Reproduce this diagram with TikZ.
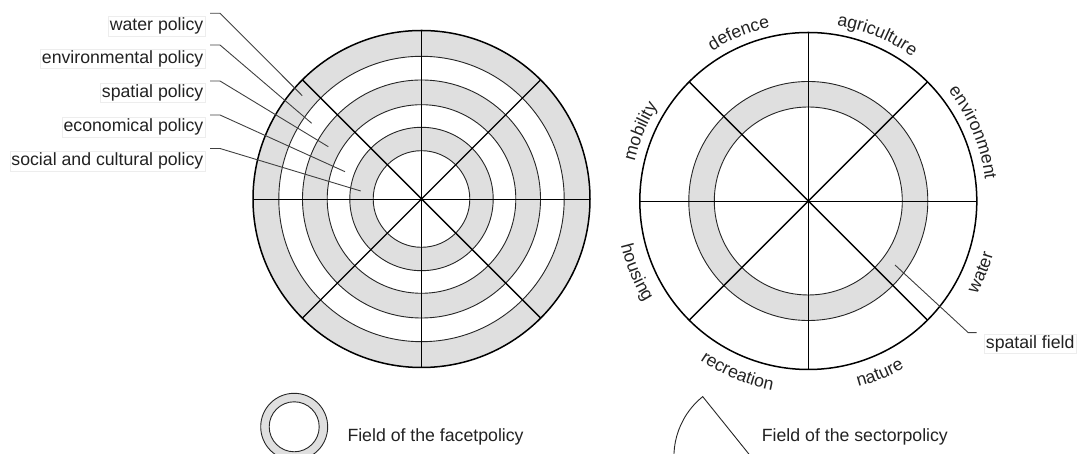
\documentclass[tikz,border=0pt]{standalone}
\usepackage{fontspec}
\setmainfont{Liberation Sans}
\usetikzlibrary{decorations.text}
\definecolor{ringgray}{HTML}{DFDFDF}
\definecolor{ink}{HTML}{222222}
\begin{document}
\begin{tikzpicture}[x=1pt,y=1pt,
  lbl/.style={font=\fontsize{17.7}{20}\selectfont, text=ink, inner sep=1.5pt, draw=black!7, fill=white},
  plain/.style={font=\fontsize{17.7}{20}\selectfont, text=ink, inner sep=0pt},
  leader/.style={draw=black!75, line width=0.9pt},
  ringline/.style={draw=black!85, line width=0.9pt},
  outerline/.style={draw=black, line width=1.5pt},
  spoke/.style={draw=black, line width=1.4pt},
  hspoke/.style={draw=black, line width=0.9pt},
  arctext/.style={decorate, decoration={text along path, text align=center, text color=ink, text={|\fontsize{17.7}{20}\selectfont|#1}}}
]
\path[use as bounding box] (0,0) rectangle (1077,454);
\clip (0,0) rectangle (1077,454);

% ---------- left circle (facet policies)
\coordinate (L) at (421.5,255);
\foreach \r/\c in {168.5/ringgray,142.7/white,119/ringgray,94.3/white,71.7/ringgray,48.3/white}
  \fill[\c] (L) circle[radius=\r];
\foreach \r in {142.7,119,94.3,71.7,48.3}
  \draw[ringline] (L) circle[radius=\r];
\draw[outerline] (L) circle[radius=168.5];
\foreach \a in {90,45,135}
  \draw[spoke] (L) +(\a:168.5) -- +(\a+180:168.5);
\draw[hspoke] (L) +(0:168.5) -- +(180:168.5);

% labels left
\node[lbl, anchor=base east] (wp) at (205,423) {water policy};
\node[lbl, anchor=base east] (ep) at (205,390.5) {environmental policy};
\node[lbl, anchor=base east] (sp) at (205,356.8) {spatial policy};
\node[lbl, anchor=base east] (ec) at (205,322.4) {economical policy};
\node[lbl, anchor=base east] (sc) at (205,288.4) {social and cultural policy};

\coordinate (wpS) at (210,440.7); \coordinate (wpE) at (302.3,358.3);
\coordinate (epS) at (210,409);   \coordinate (epE) at (311.7,330.7);
\coordinate (spS) at (210,373);   \coordinate (spE) at (328.3,307.3);
\coordinate (ecS) at (210,339);   \coordinate (ecE) at (345,282.3);
\coordinate (scS) at (210,305.5); \coordinate (scE) at (360.7,263);
\foreach \n in {wp,ep,sp,ec,sc}
  \draw[leader] (\n S) -- ++(10,0) -- (\n E);

% ---------- right circle (sector policies)
\coordinate (R) at (808.3,253);
\fill[white] (R) circle[radius=168.5];
\fill[ringgray] (R) circle[radius=119.5];
\fill[white] (R) circle[radius=94];
\draw[ringline] (R) circle[radius=119.5];
\draw[ringline] (R) circle[radius=94];
\draw[outerline] (R) circle[radius=168.5];
\foreach \a in {90,45,135}
  \draw[spoke] (R) +(\a:168.5) -- +(\a+180:168.5);
\draw[hspoke] (R) +(0:168.5) -- +(180:168.5);

% sector names along the rim
\path[arctext=mobility]    (R) ++(180:178) arc[start angle=180, end angle=135, radius=178];
\path[arctext=defence]     (R) ++(135:178) arc[start angle=135, end angle=90, radius=178];
\path[arctext=agriculture] (R) ++(90:178)  arc[start angle=90, end angle=45, radius=178];
\path[arctext=environment] (R) ++(45:178)  arc[start angle=45, end angle=0, radius=178];
\path[arctext=housing]     (R) ++(180:192.5) arc[start angle=180, end angle=225, radius=192.5];
\path[arctext=recreation]  (R) ++(225:192.5) arc[start angle=225, end angle=270, radius=192.5];
\path[arctext=nature]      (R) ++(270:192.5) arc[start angle=270, end angle=315, radius=192.5];
\path[arctext=water]       (R) ++(315:192.5) arc[start angle=315, end angle=360, radius=192.5];

% spatial field label
\node[lbl, anchor=base west] (sf) at (984.2,105.7) {spatail field};
\coordinate (sfS) at (976.7,121.3);
\coordinate (sfE) at (895,189);
\draw[leader] (sfS) -- ++(-8.4,0) -- (sfE);

% ---------- legend
\coordinate (G) at (294.2,27.2);
\fill[ringgray] (G) circle[radius=33.5];
\fill[white] (G) circle[radius=25];
\draw[ringline] (G) circle[radius=33.5];
\draw[ringline] (G) circle[radius=25];
\node[plain, anchor=base west] (facet) at (347.3,12.3) {Field of the facetpolicy};

\coordinate (S) at (751.1,-2.8);
\draw[ringline] (S) -- +(128.8:77.2) arc[start angle=128.8, end angle=200, radius=77.2];
\node[plain, anchor=base west] (sector) at (761.7,12.3) {Field of the sectorpolicy};
\end{tikzpicture}
\end{document}
